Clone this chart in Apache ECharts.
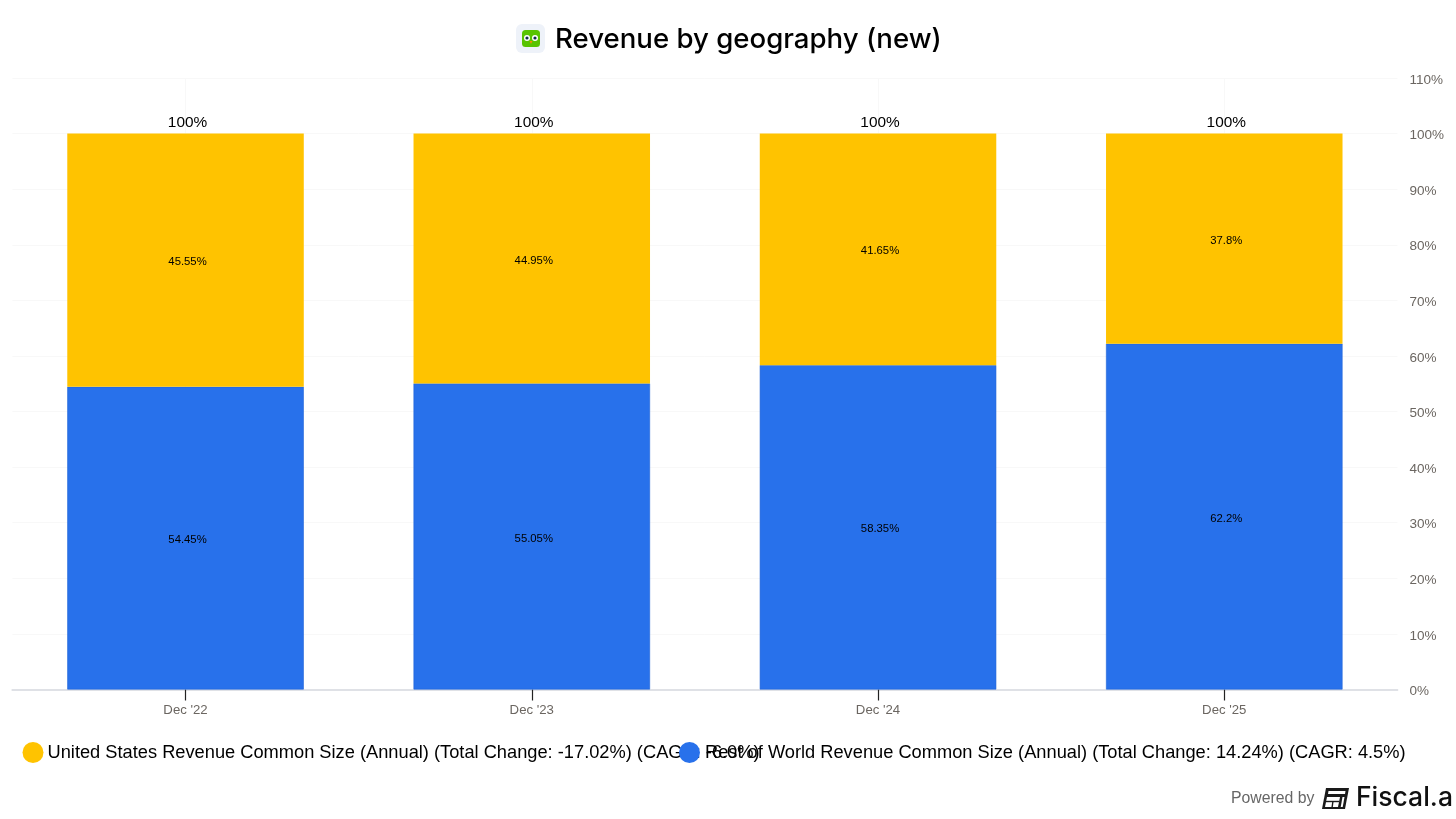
<!DOCTYPE html>
<html><head><meta charset="utf-8">
<style>html,body{margin:0;padding:0;background:#fff}#c{width:1456px;height:819px}</style>
<script src="https://cdn.jsdelivr.net/npm/echarts@6/dist/echarts.min.js"></script>
</head><body><div id="c"></div>
<script>
const categories = ["Dec '22","Dec '23","Dec '24","Dec '25"];
const restOfWorld = [54.45,55.05,58.35,62.2];
const unitedStates = [45.55,44.95,41.65,37.8];
const totals = [100,100,100,100];
const usName = "United States Revenue Common Size (Annual) (Total Change: -17.02%) (CAGR: -6.0%)";
const rowName = "Rest of World Revenue Common Size (Annual) (Total Change: 14.24%) (CAGR: 4.5%)";
const titleText = "Revenue by geography (new)";
const pct = p => p.value + '%';
const chart = echarts.init(document.getElementById('c'), null, {renderer:'canvas'});
const barLabel = {show:true,position:'inside',offset:[2,2],formatter:pct,color:'#000',fontFamily:'Liberation Sans',fontSize:11.3};
chart.setOption({
  animation:false,
  backgroundColor:'#fff',
  grid:{left:12.4,right:58.6,top:78,bottom:129.5,containLabel:false},
  legend:[
    {data:[usName],left:17.5,top:737,icon:'circle',itemWidth:21,itemHeight:21,itemGap:0,textStyle:{fontFamily:'Liberation Sans',fontSize:18.25,color:'#000',padding:[0,0,0,-1]},selectedMode:false,itemStyle:{borderWidth:0}},
    {data:[rowName],left:674,top:737,icon:'circle',itemWidth:21,itemHeight:21,itemGap:0,textStyle:{fontFamily:'Liberation Sans',fontSize:18.25,color:'#000',padding:[0,0,0,0]},selectedMode:false,itemStyle:{borderWidth:0}}
  ],
  xAxis:{type:'category',data:categories,
    axisLine:{show:true,lineStyle:{color:'#dfe1e6',width:2}},
    axisTick:{show:true,alignWithLabel:true,length:11,lineStyle:{color:'#222',width:1.2}},
    axisLabel:{color:'#6b6661',fontFamily:'Liberation Sans',fontSize:13.2,margin:14},
    splitLine:{show:true,alignWithLabel:true,lineStyle:{color:'#f8f8f8',width:1}}
  },
  yAxis:{type:'value',position:'right',min:0,max:110,interval:10,
    axisLine:{show:false},axisTick:{show:false},
    axisLabel:{color:'#6b6661',fontFamily:'Liberation Sans',fontSize:13.5,margin:12,verticalAlign:'top',padding:[-5,0,0,0],formatter:'{value}%'},
    splitLine:{show:true,lineStyle:{color:'#f8f8f8',width:1}}
  },
  series:[
    {name:rowName,type:'bar',stack:'t',data:restOfWorld,barWidth:236.5,
     itemStyle:{color:'#2871EB',borderColor:'#1f63d6',borderWidth:0.6},
     label:barLabel},
    {name:usName,type:'bar',stack:'t',data:unitedStates,barWidth:236.5,
     itemStyle:{color:'#FFC300'},
     label:barLabel},
    {name:'Total',type:'line',data:totals,symbol:'circle',symbolSize:1,showSymbol:true,itemStyle:{color:'rgba(0,0,0,0)'},lineStyle:{opacity:0},silent:true,
     label:{show:true,position:'top',distance:3,offset:[2,0],formatter:pct,color:'#000',fontFamily:'Liberation Sans',fontSize:15.4}}
  ],
  graphic:[
    {type:'rect',shape:{x:516,y:24,width:29,height:29,r:6},style:{fill:'#eef2f9'}},
    {type:'rect',shape:{x:522,y:30,width:18,height:17,r:3.5},style:{fill:'#58c400'}},
    {type:'circle',shape:{cx:527,cy:38,r:3},style:{fill:'#fff'}},
    {type:'circle',shape:{cx:535,cy:38,r:3},style:{fill:'#fff'}},
    {type:'circle',shape:{cx:527,cy:38,r:1.6},style:{fill:'#12304a'}},
    {type:'circle',shape:{cx:535,cy:38,r:1.6},style:{fill:'#12304a'}},
    {type:'polygon',shape:{points:[[529.5,41],[532.5,41],[531,44]]},style:{fill:'#f49000'}},
    {type:'text',x:555,y:40,style:{text:titleText,fill:'#000',font:'500 27.6px Inter',textVerticalAlign:'middle'}},
    {type:'text',x:1231,y:799,style:{text:'Powered by',fill:'#666',font:'15.8px Liberation Sans',textVerticalAlign:'middle'}},
    {type:'polygon',shape:{points:[[1326,788],[1349,788],[1345,809],[1322,809]]},style:{fill:'#1a1a1a'}},
    {type:'polygon',shape:{points:[[1328.5,791],[1345.5,791],[1345,794],[1328,794]]},style:{fill:'#fff'}},
    {type:'polygon',shape:{points:[[1327,797],[1340,797],[1338,807],[1325,807]]},style:{fill:'#fff'}},
    {type:'polygon',shape:{points:[[1342.5,797],[1344.5,797],[1342.7,807],[1340.7,807]]},style:{fill:'#fff'}},
    {type:'line',shape:{x1:1326,y1:801.5,x2:1339,y2:801.5},style:{stroke:'#1a1a1a',lineWidth:1.4}},
    {type:'line',shape:{x1:1333,y1:801,x2:1332,y2:808},style:{stroke:'#1a1a1a',lineWidth:1.4}},
    {type:'text',x:1356,y:798,style:{text:'Fiscal.a',fill:'#111',font:'500 26.5px Inter',textVerticalAlign:'middle'}}
  ]
});
</script></body></html>
